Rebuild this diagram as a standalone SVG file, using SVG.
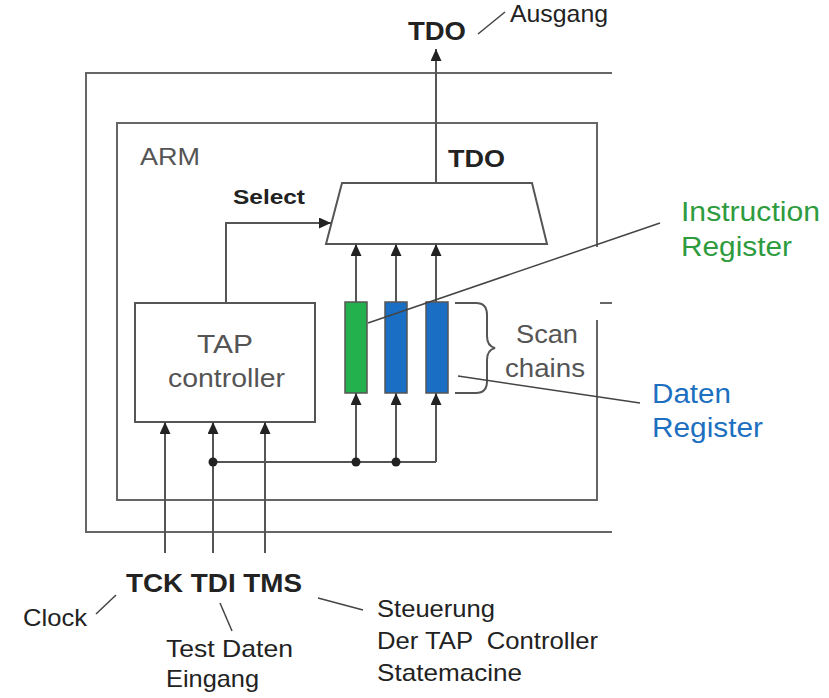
<svg xmlns="http://www.w3.org/2000/svg" width="829" height="698" viewBox="0 0 829 698">
<style>
.ln{stroke:#555;stroke-width:2;fill:none}
.box{stroke:#666;stroke-width:2;fill:none}
.node{stroke:#555;stroke-width:2;fill:#fff}
.lead{stroke:#444;stroke-width:1.5;fill:none}
.t{font-family:"Liberation Sans",Arial,sans-serif}
.b{font-weight:bold;fill:#222}
.g{fill:#555}
.k{fill:#222}
.green{fill:#2e9b3e}
.blue{fill:#1d6fc0}
</style>
<defs>
<marker id="ah" markerWidth="12" markerHeight="11" refX="12" refY="5.5" orient="auto" markerUnits="userSpaceOnUse">
<path d="M0,0 L12,5.5 L0,11 z" fill="#222"/>
</marker>
</defs>
<rect width="829" height="698" fill="#fff"/>

<g id="chip-outer">
<path class="box" d="M612,73 H86 V532 H612"/>
</g>
<g id="arm-core">
<path class="box" d="M597,247 V123 H117 V500 H597 V320"/>
<path class="box" d="M600,303 H612"/>
<text class="t g" x="140" y="165" font-size="23" textLength="60" lengthAdjust="spacingAndGlyphs">ARM</text>
</g>

<g id="mux">
<path class="node" d="M342,183 H532 L547,244 H326 Z"/>
<text class="t b" x="448" y="167" font-size="24" textLength="57" lengthAdjust="spacingAndGlyphs">TDO</text>
</g>

<g id="tap-controller">
<rect class="node" x="135" y="303" width="180" height="119"/>
<text class="t g" x="197" y="353" font-size="26" textLength="56" lengthAdjust="spacingAndGlyphs">TAP</text>
<text class="t g" x="168" y="387" font-size="26" textLength="117" lengthAdjust="spacingAndGlyphs">controller</text>
</g>

<g id="reg-instruction">
<rect x="345" y="302" width="22" height="91" fill="#22b14c" stroke="#555" stroke-width="1.5"/>
</g>
<g id="reg-data-1">
<rect x="385" y="302" width="22" height="91" fill="#1a6fc4" stroke="#555" stroke-width="1.5"/>
</g>
<g id="reg-data-2">
<rect x="426" y="302" width="22" height="91" fill="#1a6fc4" stroke="#555" stroke-width="1.5"/>
</g>

<g id="scan-chains">
<path class="ln" d="M455,303 H476 Q487,303 487,315 V336 Q487,346 495,348 Q487,350 487,360 V381 Q487,393 476,393 H455"/>
<text class="t g" x="516" y="343" font-size="26" textLength="62" lengthAdjust="spacingAndGlyphs">Scan</text>
<text class="t g" x="505" y="377" font-size="26" textLength="80" lengthAdjust="spacingAndGlyphs">chains</text>
</g>

<g id="connectors">
<path class="ln" d="M436,183 V49" marker-end="url(#ah)"/>
<path class="ln" d="M226,303 V223 H331" marker-end="url(#ah)"/>
<path class="ln" d="M356,302 V244" marker-end="url(#ah)"/>
<path class="ln" d="M396,302 V244" marker-end="url(#ah)"/>
<path class="ln" d="M436,302 V244" marker-end="url(#ah)"/>
<path class="ln" d="M356,462 V393" marker-end="url(#ah)"/>
<path class="ln" d="M396,462 V393" marker-end="url(#ah)"/>
<path class="ln" d="M436,462 V393" marker-end="url(#ah)"/>
<path class="ln" d="M213,462 H436"/>
<path class="ln" d="M165,553 V422" marker-end="url(#ah)"/>
<path class="ln" d="M213,553 V422" marker-end="url(#ah)"/>
<path class="ln" d="M265,553 V422" marker-end="url(#ah)"/>
<circle cx="213" cy="462" r="4.5" fill="#222"/>
<circle cx="356" cy="462" r="4.5" fill="#222"/>
<circle cx="396" cy="462" r="4.5" fill="#222"/>
</g>

<g id="annotations">
<path class="lead" d="M368,323 L660,223"/>
<path class="lead" d="M458,376 L640,403"/>
<path class="lead" d="M478,34 L505,12"/>
<path class="lead" d="M96,614 L116,595"/>
<path class="lead" d="M220,603 L232,631"/>
<path class="lead" d="M318,598 L363,610"/>
</g>

<g id="labels">
<text class="t b" x="408" y="40" font-size="25" textLength="58" lengthAdjust="spacingAndGlyphs">TDO</text>
<text class="t k" x="510" y="22" font-size="24" textLength="98" lengthAdjust="spacingAndGlyphs">Ausgang</text>
<text class="t b" x="233" y="204" font-size="21" textLength="72" lengthAdjust="spacingAndGlyphs">Select</text>
<text class="t green" x="681" y="221" font-size="27" textLength="139" lengthAdjust="spacingAndGlyphs">Instruction</text>
<text class="t green" x="681" y="256" font-size="27" textLength="111" lengthAdjust="spacingAndGlyphs">Register</text>
<text class="t blue" x="652" y="403" font-size="27" textLength="79" lengthAdjust="spacingAndGlyphs">Daten</text>
<text class="t blue" x="652" y="437" font-size="27" textLength="111" lengthAdjust="spacingAndGlyphs">Register</text>
<text class="t b" x="126" y="592" font-size="26" fill="#333" textLength="176" lengthAdjust="spacingAndGlyphs">TCK TDI TMS</text>
<text class="t k" x="23" y="626" font-size="24" textLength="64" lengthAdjust="spacingAndGlyphs">Clock</text>
<text class="t k" x="166" y="657" font-size="24" textLength="127" lengthAdjust="spacingAndGlyphs">Test Daten</text>
<text class="t k" x="166" y="687" font-size="24" textLength="93" lengthAdjust="spacingAndGlyphs">Eingang</text>
<text class="t k" x="377" y="617" font-size="24" textLength="118" lengthAdjust="spacingAndGlyphs">Steuerung</text>
<text class="t k" x="377" y="649" font-size="24" textLength="221" lengthAdjust="spacingAndGlyphs" xml:space="preserve">Der TAP  Controller</text>
<text class="t k" x="377" y="681" font-size="24" textLength="145" lengthAdjust="spacingAndGlyphs">Statemacine</text>
</g>
</svg>
